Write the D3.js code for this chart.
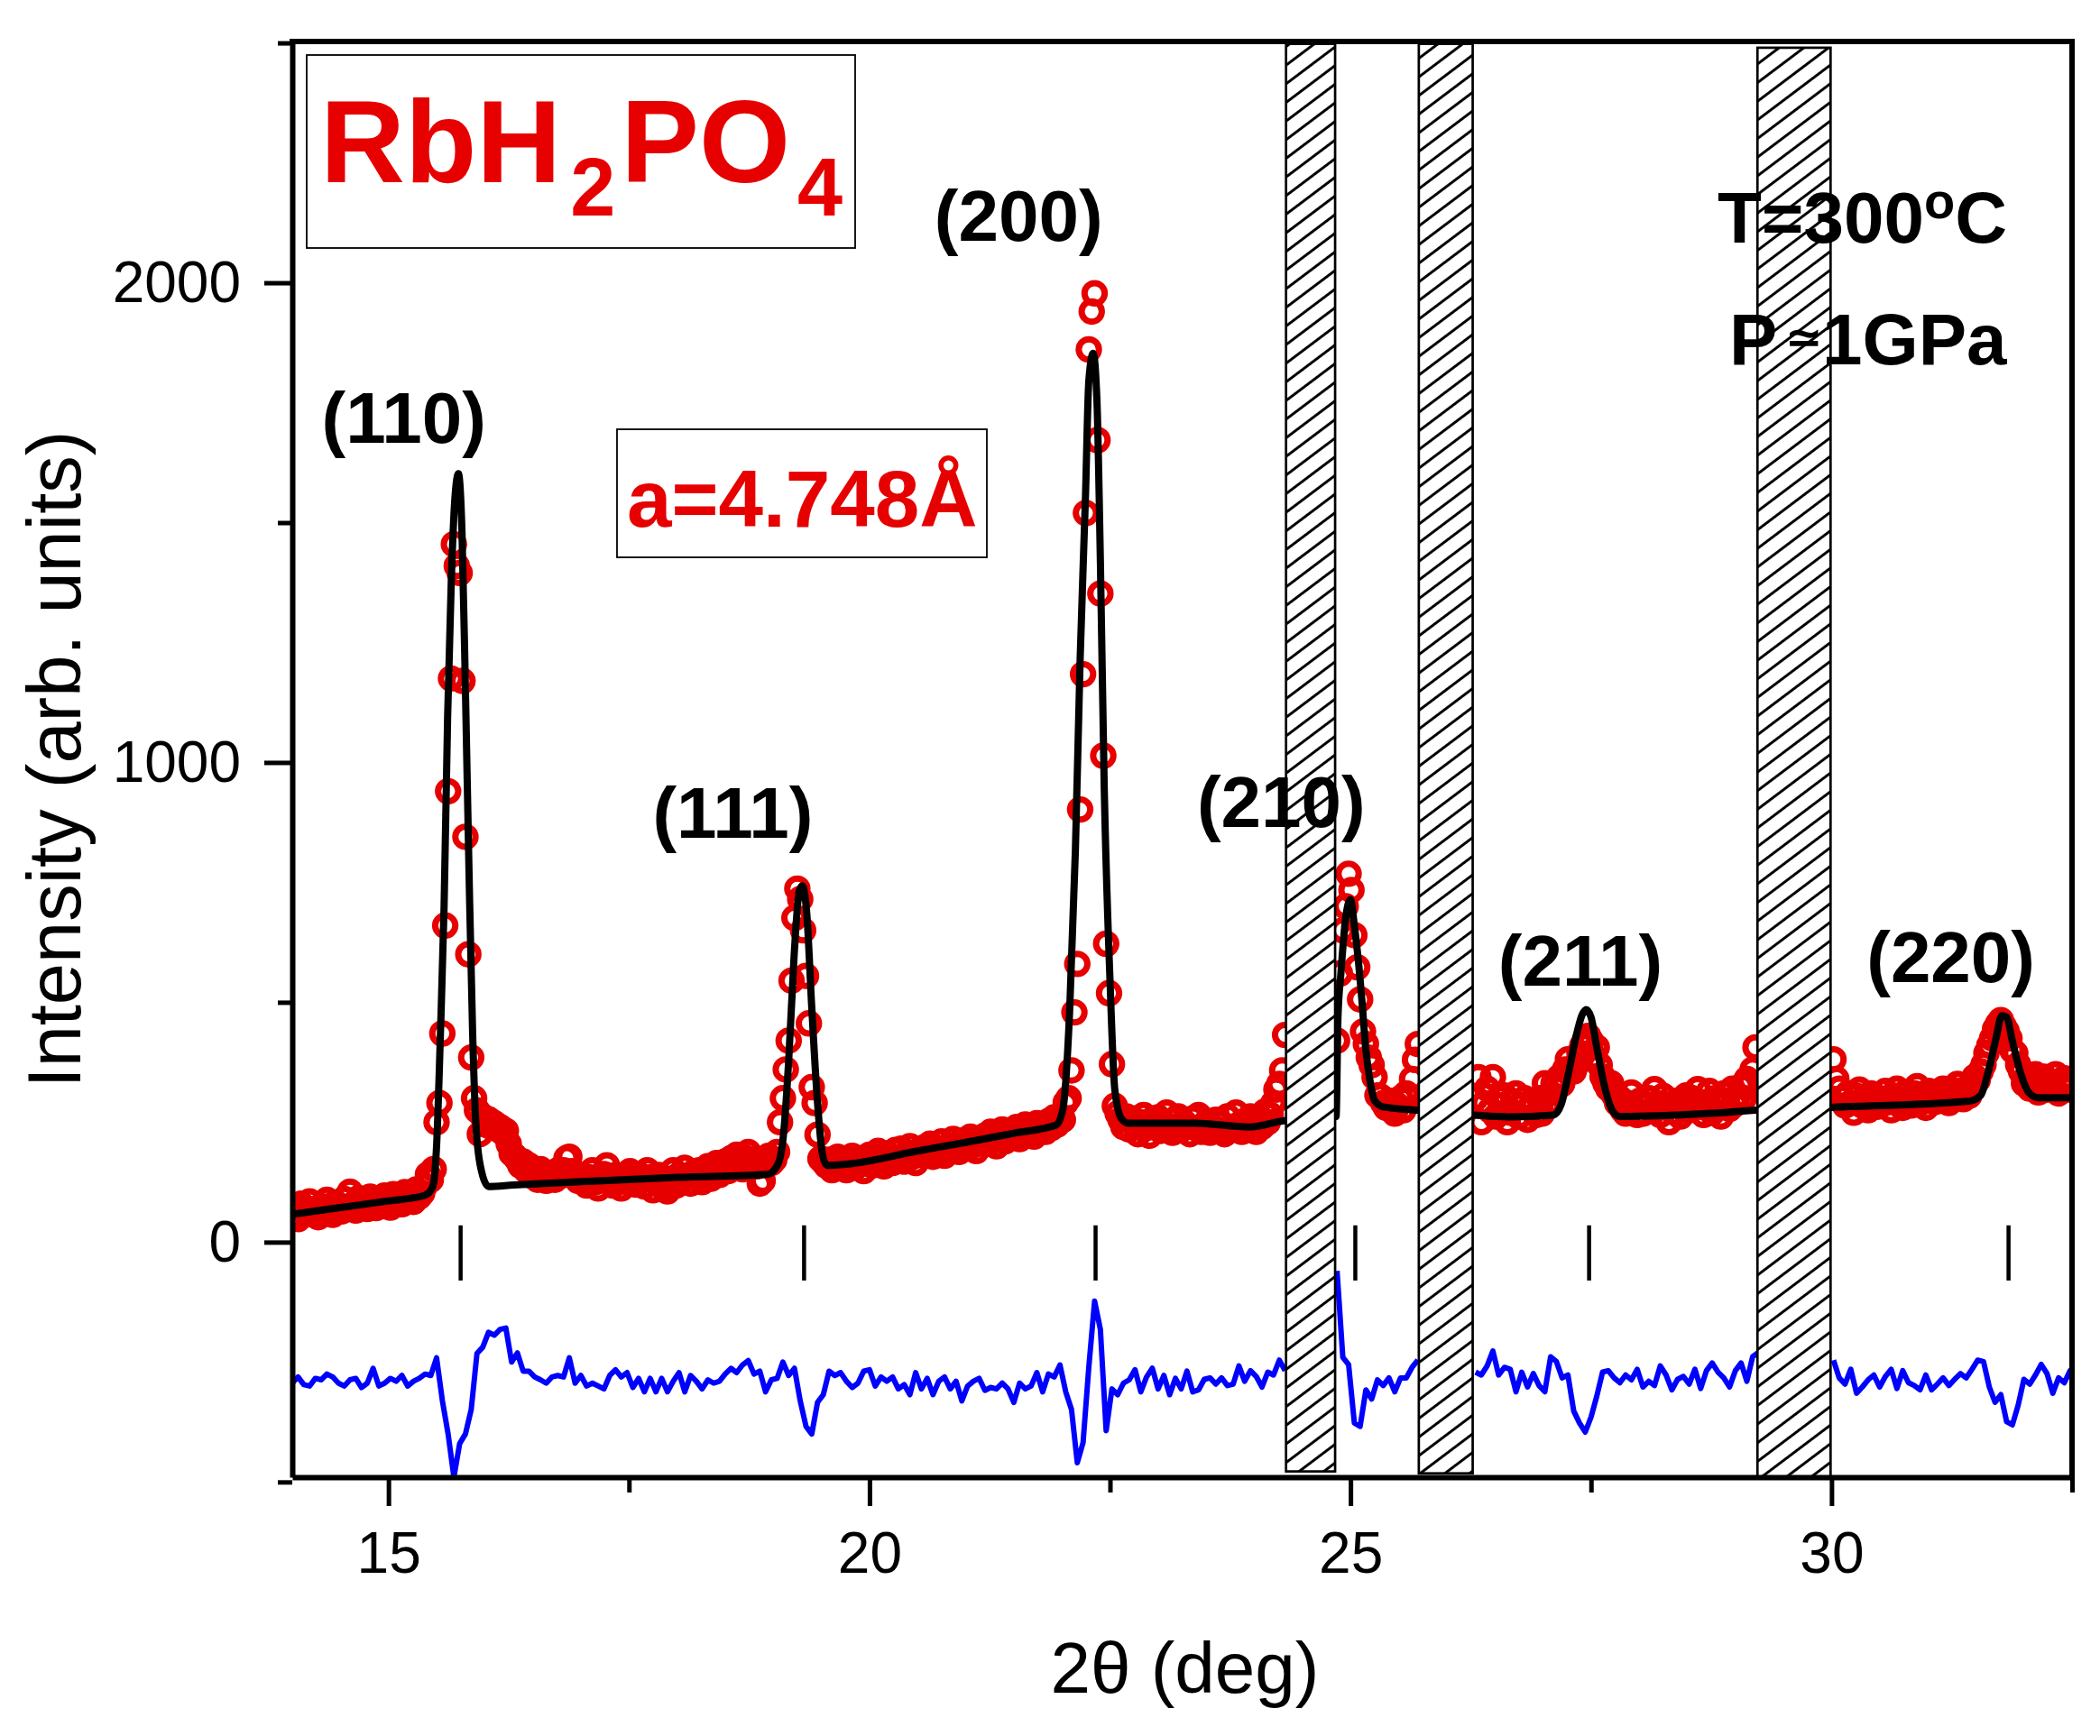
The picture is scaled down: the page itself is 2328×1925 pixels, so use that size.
<!DOCTYPE html>
<html lang="en">
<head>
    <meta charset="utf-8" />
    <title>RbH2PO4 refinement</title>
    <script src="https://d3js.org/d3.v7.min.js"></script>
    <style>
        body { margin: 0; background: #fff; }
        text { font-family: "Liberation Sans", Arial, sans-serif; }
    </style>
</head>
<body>
    <script>
        // Observed pattern: 2theta starts at 14.00, step 0.03 deg (null = excluded region)
        const obsStart = 14.0;
        const obsStep = 0.03;
        const obsIntensity = [
            55, 72, 48, 80, 66, 58, 85, 62, 70, 52,
            75, 60, 88, 68, 57, 82, 70, 64, 90, 72,
            105, 78, 66, 92, 74, 85, 69, 95, 80, 71,
            88, 76, 97, 83, 72, 100, 86, 92, 79, 104,
            90, 98, 84, 110, 95, 102, 118, 141, 130, 152,
            250, 290, 435, 660, 940, 1175, 1455, 1410, 1395, 1170,
            845, 600, 385, 300, 275, 225, 262, 245, 256, 240,
            248, 236, 240, 228, 232, 205, 185, 180, 172, 160,
            168, 150, 160, 138, 145, 130, 152, 140, 128, 135,
            142, 130, 150, 138, 150, 175, 178, 148, 135, 128,
            140, 132, 118, 135, 150, 125, 112, 130, 142, 160,
            132, 118, 140, 128, 112, 138, 125, 148, 130, 120,
            142, 128, 116, 150, 135, 108, 128, 140, 120, 110,
            106, 132, 150, 118, 140, 128, 155, 135, 122, 145,
            138, 150, 125, 142, 158, 132, 148, 165, 140, 152,
            168, 148, 175, 158, 182, 166, 152, 176, 188, 162,
            172, 158, 122, 128, 165, 180, 165, 172, 188, 250,
            300, 360, 420, 545, 676, 737, 715, 650, 555, 456,
            323, 290, 224, 174, 168, 160, 172, 150, 165, 178,
            158, 172, 150, 168, 180, 155, 162, 175, 148, 170,
            182, 160, 175, 190, 168, 158, 185, 172, 165, 192,
            175, 195, 168, 185, 200, 178, 165, 190, 182, 198,
            185, 205, 178, 196, 188, 210, 180, 198, 192, 215,
            200, 188, 212, 205, 195, 220, 202, 190, 215, 208,
            222, 205, 230, 212, 200, 225, 235, 210, 218, 232,
            222, 240, 215, 232, 245, 225, 238, 220, 248, 235,
            242, 230, 252, 238, 260, 245, 262, 255, 291, 300,
            358, 479, 580, 902, 1184, 1520, 1861, 1940, 1978, 1672,
            1352, 1014, 622, 519, 371, 284, 268, 255, 240, 262,
            235, 258, 242, 225, 250, 265, 238, 222, 255, 245,
            260, 232, 248, 270, 240, 228, 255, 262, 235, 250,
            242, 225, 258, 238, 265, 230, 245, 252, 228, 240,
            255, 232, 248, 225, 262, 240, 235, 270, 245, 230,
            252, 238, 262, 245, 230, 258, 240, 272, 250, 265,
            290, 318, 330, 358, 432, null, null, null, null, null,
            null, null, null, null, null, null, null, null, null, null,
            null, null, 420, 560, 650, 700, 768, 734, 640, 573,
            506, 439, 413, 385, 369, 344, 306, 304, 290, 280,
            295, 275, 268, 285, 300, 275, 310, 300, 340, 380,
            413, null, null, null, null, null, null, null, null, null,
            null, null, null, null, null, null, null, null, null, null,
            300, 344, 250, 290, 320, 275, 344, 262, 300, 285,
            306, 250, 270, 293, 310, 262, 285, 300, 255, 278,
            290, 265, 300, 268, 331, 285, 310, 331, 320, 344,
            330, 360, 381, 360, 356, 370, 394, 410, 422, 430,
            419, 387, 406, 369, 345, 331, 320, 331, 306, 290,
            300, 275, 268, 290, 312, 280, 265, 295, 268, 285,
            300, 275, 319, 290, 265, 305, 280, 250, 288, 270,
            295, 262, 285, 306, 275, 300, 290, 319, 282, 265,
            292, 315, 270, 300, 285, 262, 310, 295, 278, 320,
            288, 305, 325, 300, 340, 330, 360, 406, null, null,
            null, null, null, null, null, null, null, null, null, null,
            null, null, null, null, null, null, null, null, null, null,
            null, null, null, null, 381, 340, 320, 300, 285, 310,
            290, 270, 305, 318, 285, 300, 275, 310, 295, 282,
            300, 288, 315, 292, 275, 305, 320, 290, 280, 312,
            298, 285, 310, 325, 290, 302, 280, 315, 300, 292,
            310, 295, 320, 305, 290, 318, 300, 330, 312, 298,
            320, 305, 330, 345, 338, 356, 370, 394, 410, 425,
            444, 455, 463, 450, 440, 425, 400, 394, 370, 356,
            331, 345, 320, 338, 350, 312, 330, 345, 318, 335,
            325, 350, 310, 335, 342, 318, 330
        ];

        // Calculated profile
        const calcTheta = [14.00, 14.50, 15.00, 15.37, 15.44, 15.47, 15.50, 15.54, 15.578, 15.615,
            15.652, 15.69, 15.727, 15.764, 15.80, 15.838, 15.875, 15.912, 15.968, 16.04,
            16.30, 17.00, 18.00, 18.94, 19.05, 19.106, 19.16, 19.217, 19.27, 19.30,
            19.347, 19.40, 19.46, 19.514, 19.56, 19.78, 20.50, 21.00, 21.50, 21.94,
            22.01, 22.08, 22.14, 22.19, 22.245, 22.28, 22.325, 22.364, 22.40, 22.44,
            22.50, 22.55, 22.62, 22.69, 23.38, 23.95, 24.31, 24.60, 24.85, 24.87,
            24.90, 24.95, 25.00, 25.04, 25.08, 25.12, 25.16, 25.20, 25.25, 25.34,
            25.70, 26.28, 26.64, 27.11, 27.19, 27.27, 27.34, 27.41, 27.45, 27.50,
            27.56, 27.64, 27.72, 27.80, 28.70, 29.22, 29.99, 31.43, 31.55, 31.63,
            31.71, 31.77, 31.82, 31.88, 31.96, 32.05, 32.15, 32.52];
        const calcIntensity = [58, 72, 86, 97, 108, 124, 200, 434, 699, 1096,
            1372, 1549, 1602, 1482, 1151, 765, 434, 235, 147, 116,
            119, 126, 135, 141, 163, 224, 378, 599, 732, 743,
            688, 489, 290, 180, 160, 163, 190, 208, 227, 244,
            277, 479, 815, 1218, 1554, 1796, 1853, 1756, 1420, 949,
            546, 318, 257, 248, 248, 240, 253, 256, 262, 470,
            560, 676, 714, 660, 590, 500, 400, 340, 295, 282,
            275, 265, 261, 265, 287, 356, 425, 475, 485, 469,
            406, 325, 275, 262, 268, 275, 281, 294, 306, 356,
            425, 472, 469, 419, 356, 312, 301, 301];

        // Difference curve (obs - calc, shifted), step 0.06 deg from 14.00
        const diffStart = 14.0;
        const diffStep = 0.06;
        const diffIntensity = [
            -294, -281, -297, -300, -284, -287, -275, -281, -294, -300,
            -287, -284, -303, -294, -263, -300, -294, -284, -290, -278,
            -300, -290, -284, -275, -278, -241, -330, -400, -490, -420,
            -400, -349, -232, -219, -188, -194, -182, -179, -250, -231,
            -269, -269, -281, -287, -294, -281, -278, -281, -241, -294,
            -278, -300, -294, -300, -306, -278, -266, -281, -272, -303,
            -284, -312, -284, -312, -284, -312, -290, -272, -312, -278,
            -290, -306, -287, -294, -290, -275, -263, -272, -256, -247,
            -275, -269, -312, -287, -284, -250, -278, -263, -331, -384,
            -400, -334, -318, -269, -278, -272, -290, -303, -294, -269,
            -266, -300, -281, -290, -281, -306, -297, -318, -272, -306,
            -284, -318, -290, -281, -306, -290, -331, -300, -290, -284,
            -309, -303, -306, -294, -306, -334, -294, -306, -300, -272,
            -312, -275, -281, -256, -312, -349, -460, -418, -260, -123,
            -182, -393, -306, -318, -294, -287, -266, -312, -281, -263,
            -306, -278, -318, -284, -306, -269, -312, -308, -286, -283,
            -296, -283, -299, -296, -258, -290, -268, -280, -302, -271,
            -277, -246, -268, null, null, null, null, null, null, null,
            null, -60, -240, -255, -377, -384, -308, -327, -287, -299,
            -283, -312, -283, -283, -261, -246, null, null, null, null,
            null, null, null, null, null, -271, -277, -258, -227, -277,
            -261, -265, -312, -271, -302, -274, -299, -312, -239, -249,
            -283, -277, -352, -377, -396, -365, -321, -271, -268, -283,
            -293, -277, -287, -265, -302, -290, -299, -258, -277, -308,
            -286, -280, -296, -265, -305, -268, -252, -271, -283, -302,
            -268, -252, -290, -239, -230, null, null, null, null, null,
            null, null, null, null, null, null, null, -246, -283, -296,
            -265, -315, -302, -287, -277, -302, -280, -265, -305, -268,
            -293, -299, -308, -277, -308, -296, -283, -299, -286, -274,
            -283, -265, -246, -249, -302, -334, -318, -374, -381, -340,
            -286, -296, -277, -255, -274, -315, -283, -293, -268, -282
        ];

        // Bragg reflections and labels
        const braggTheta = [15.75, 19.32, 22.35, 25.05, 27.48, 31.84];
        const hklLabels = ["(110)", "(111)", "(200)", "(210)", "(211)", "(220)"];
        const hklLabelTheta = [15.16, 18.58, 21.55, 24.28, 27.39, 31.24];
        const hklLabelInt = [1667, 843, 2088, 866, 535, 542];

        // Excluded regions (hatched)
        const bandStart = [24.33, 25.71, 29.23];
        const bandEnd = [24.84, 26.27, 29.99];
        const bandTop = [2498, 2498, 2490];
        const bandBottom = [-478, -482, -492];

        // Axis ticks
        const xMajorTicks = [15, 20, 25, 30];
        const xMinorTicks = [17.5, 22.5, 27.5, 32.5];
        const yMajorTicks = [0, 1000, 2000];
        const yMinorTicks = [-500, 500, 1500, 2500];

        const width = 2328, height = 1925;
        const plotLeft = 324, plotRight = 2297, plotTop = 46, plotBottom = 1638;
        const red = "#e60000";

        const svg = d3.select("body").append("svg")
            .attr("width", width)
            .attr("height", height)
            .style("display", "block");

        const x = d3.scaleLinear().domain([14, 32.5]).range([plotLeft, plotRight]);
        const y = d3.scaleLinear().domain([-490, 2503]).range([plotBottom, plotTop]);

        const defs = svg.append("defs");
        defs.append("clipPath").attr("id", "plot-clip")
            .append("rect")
            .attr("x", plotLeft).attr("y", plotTop)
            .attr("width", plotRight - plotLeft).attr("height", plotBottom - plotTop);

        const hatch = defs.append("pattern")
            .attr("id", "hatch")
            .attr("patternUnits", "userSpaceOnUse")
            .attr("width", 20).attr("height", 16.5)
            .attr("patternTransform", "rotate(-37)");
        hatch.append("rect").attr("width", 20).attr("height", 16.5).attr("fill", "#fff");
        hatch.append("line")
            .attr("x1", -1).attr("y1", 8.25).attr("x2", 21).attr("y2", 8.25)
            .attr("stroke", "#000").attr("stroke-width", 3);

        const plot = svg.append("g").attr("clip-path", "url(#plot-clip)");

        // observed points
        const obs = obsIntensity.map((v, i) => ({ t: obsStart + i * obsStep, v: v }))
            .filter(d => d.v !== null);
        plot.append("g").selectAll("circle")
            .data(obs)
            .enter()
            .append("circle")
            .attr("cx", d => x(d.t))
            .attr("cy", d => y(d.v))
            .attr("r", 11.2)
            .attr("fill", "none")
            .attr("stroke", red)
            .attr("stroke-width", 7);

        // calculated profile
        const calc = calcTheta.map((t, i) => [t, calcIntensity[i]]);
        plot.append("path")
            .datum(calc)
            .attr("fill", "none")
            .attr("stroke", "#000")
            .attr("stroke-width", 8)
            .attr("stroke-linejoin", "round")
            .attr("d", d3.line().x(d => x(d[0])).y(d => y(d[1])).curve(d3.curveMonotoneX));

        // difference curve
        const diff = diffIntensity.map((v, i) => [diffStart + i * diffStep, v]);
        plot.append("path")
            .datum(diff)
            .attr("fill", "none")
            .attr("stroke", "#0000ff")
            .attr("stroke-width", 6)
            .attr("stroke-linejoin", "round")
            .attr("d", d3.line().defined(d => d[1] !== null).x(d => x(d[0])).y(d => y(d[1])));

        // Bragg position ticks
        svg.append("g").selectAll("line")
            .data(braggTheta)
            .enter()
            .append("line")
            .attr("x1", d => x(d)).attr("x2", d => x(d))
            .attr("y1", y(35)).attr("y2", y(-80))
            .attr("stroke", "#000")
            .attr("stroke-width", 4.5);

        // hatched excluded regions cover the data
        svg.append("g").selectAll("rect")
            .data(bandStart)
            .enter()
            .append("rect")
            .attr("x", d => x(d))
            .attr("y", (d, i) => y(bandTop[i]))
            .attr("width", (d, i) => x(bandEnd[i]) - x(d))
            .attr("height", (d, i) => y(bandBottom[i]) - y(bandTop[i]))
            .attr("fill", "url(#hatch)")
            .attr("stroke", "#000")
            .attr("stroke-width", 2.7);

        // hkl labels (on top of the hatched bands)
        svg.append("g").selectAll("text")
            .data(hklLabels)
            .enter()
            .append("text")
            .attr("x", (d, i) => x(hklLabelTheta[i]))
            .attr("y", (d, i) => y(hklLabelInt[i]))
            .attr("text-anchor", "middle")
            .attr("font-size", 80)
            .attr("font-weight", "bold")
            .text(d => d);

        // conditions
        const tText = svg.append("text")
            .attr("x", 1904).attr("y", 269)
            .attr("font-size", 80).attr("font-weight", "bold");
        tText.append("tspan").text("T=300");
        tText.append("tspan").attr("font-size", 56).attr("dy", -27).text("o");
        tText.append("tspan").attr("dy", 27).text("C");

        svg.append("text")
            .attr("x", 1917).attr("y", 404)
            .attr("font-size", 80).attr("font-weight", "bold")
            .text("P");
        svg.append("text")
            .attr("x", 2000).attr("y", 374)
            .attr("text-anchor", "middle")
            .attr("dominant-baseline", "central")
            .attr("font-size", 50).attr("font-weight", "bold")
            .style("font-family", "'DejaVu Sans', sans-serif")
            .text("\u2243");
        svg.append("text")
            .attr("x", 2020).attr("y", 404)
            .attr("font-size", 80).attr("font-weight", "bold")
            .text("1GPa");

        // title box
        svg.append("rect")
            .attr("x", 340).attr("y", 61).attr("width", 608).attr("height", 214)
            .attr("fill", "#fff").attr("stroke", "#000").attr("stroke-width", 1.8);
        const title = svg.append("text")
            .attr("x", 355).attr("y", 202)
            .attr("font-size", 130).attr("font-weight", "bold").attr("fill", red);
        title.append("tspan").text("RbH");
        title.append("tspan").attr("font-size", 90).attr("dx", 10).attr("dy", 37).text("2");
        title.append("tspan").attr("dx", 6).attr("dy", -37).text("PO");
        title.append("tspan").attr("font-size", 90).attr("dx", 8).attr("dy", 37).text("4");

        // lattice parameter box
        svg.append("rect")
            .attr("x", 684).attr("y", 476).attr("width", 410).attr("height", 142)
            .attr("fill", "#fff").attr("stroke", "#000").attr("stroke-width", 1.8);
        svg.append("text")
            .attr("x", 695).attr("y", 584)
            .attr("font-size", 89).attr("font-weight", "bold").attr("fill", red)
            .text("a=4.748\u00c5");

        // axes
        const xAxis = d3.axisBottom(x).tickValues(xMajorTicks).tickSize(32).tickSizeOuter(0)
            .tickFormat(d3.format("d"));
        const xMinor = d3.axisBottom(x).tickValues(xMinorTicks).tickSize(17).tickFormat("");
        const yAxis = d3.axisLeft(y).tickValues(yMajorTicks).tickSize(31).tickSizeOuter(0)
            .tickFormat(d3.format("d"));
        const yMinor = d3.axisLeft(y).tickValues(yMinorTicks).tickSize(16).tickFormat("");

        const gx = svg.append("g").attr("transform", "translate(0," + plotBottom + ")").call(xAxis);
        gx.selectAll("text").attr("y", 106).attr("dy", null);
        svg.append("g").attr("transform", "translate(0," + plotBottom + ")").call(xMinor)
            .select(".domain").remove();
        const gy = svg.append("g").attr("transform", "translate(" + plotLeft + ",0)").call(yAxis);
        gy.selectAll("text").attr("x", -57).attr("dy", "0.33em");
        svg.append("g").attr("transform", "translate(" + plotLeft + ",0)").call(yMinor)
            .select(".domain").remove();

        svg.selectAll(".tick line").attr("stroke-width", 5);
        svg.selectAll(".domain").attr("stroke-width", 6);
        svg.selectAll(".tick text")
            .attr("font-size", 64)
            .attr("font-family", "'Liberation Sans', Arial, sans-serif")
            .attr("fill", "#000");

        // frame top and right
        svg.append("path")
            .attr("d", "M" + plotLeft + "," + plotTop + "H" + plotRight + "V" + plotBottom)
            .attr("fill", "none")
            .attr("stroke", "#000")
            .attr("stroke-width", 6)
            .attr("stroke-linecap", "square");

        // axis titles
        svg.append("text")
            .attr("x", (plotLeft + plotRight) / 2 + 3).attr("y", 1877)
            .attr("text-anchor", "middle")
            .attr("font-size", 80)
            .text("2\u03b8 (deg)");
        svg.append("text")
            .attr("transform", "translate(89," + (plotTop + plotBottom) / 2 + ") rotate(-90)")
            .attr("text-anchor", "middle")
            .attr("font-size", 83)
            .text("Intensity (arb. units)");
    </script>
</body>
</html>
